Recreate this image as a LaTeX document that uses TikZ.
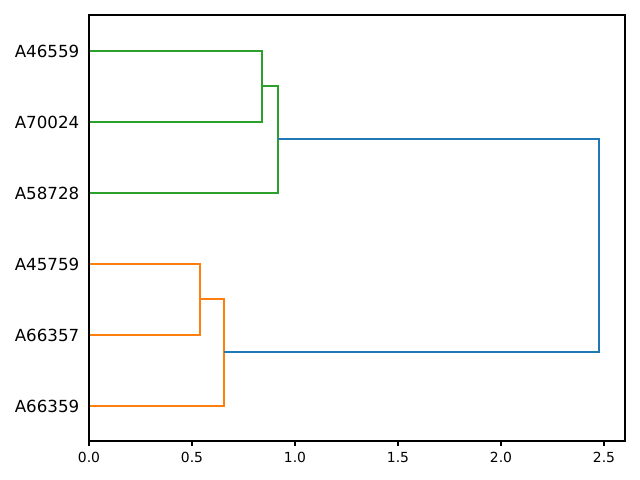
\documentclass[tikz,border=0pt]{standalone}
\usepackage{fontspec}
\setmainfont{DejaVu Sans}
\usetikzlibrary{calc}

\definecolor{linkblue}{HTML}{1F77B4}
\definecolor{linkorange}{HTML}{FF7F0E}
\definecolor{linkgreen}{HTML}{2CA02C}

\tikzset{
  leaflabel/.style={anchor=east, inner sep=0pt, font=\fontsize{12}{14}\selectfont},
  ticklabel/.style={anchor=north, inner sep=0pt, font=\fontsize{10}{12}\selectfont},
  link/.style={line width=1.5pt, line cap=butt, line join=miter}
}

\begin{document}
\begin{tikzpicture}[x=0.72pt, y=-0.72pt]
    \useasboundingbox (0,0) rectangle (640,480);

    % leaves, on the left spine
    \coordinate (l1) at (89,51);
    \coordinate (l2) at (89,122);
    \coordinate (l3) at (89,193);
    \coordinate (l4) at (89,264);
    \coordinate (l5) at (89,335);
    \coordinate (l6) at (89,406);

    \node[leaflabel] (n1) at (79.5,51) {A46559};
    \node[leaflabel] (n2) at (79.5,122) {A70024};
    \node[leaflabel] (n3) at (79.5,193) {A58728};
    \node[leaflabel] (n4) at (79.5,264) {A45759};
    \node[leaflabel] (n5) at (79.5,335) {A66357};
    \node[leaflabel] (n6) at (79.5,406) {A66359};

    % merge points
    \coordinate (g1) at (262,86);
    \coordinate (g2) at (278,139);
    \coordinate (o1) at (200,299);
    \coordinate (o2) at (224,352);
    \coordinate (r)  at (599,246);

    \draw[link, linkgreen] (l1) -| (g1) |- (l2);
    \draw[link, linkgreen] (g1) -| (g2) |- (l3);
    \draw[link, linkorange] (l4) -| (o1) |- (l5);
    \draw[link, linkorange] (o1) -| (o2) |- (l6);
    \draw[link, linkblue] (g2) -| (r) |- (o2);

    % axes frame and x ticks
    \draw[line width=0.8pt] (89,15) rectangle (625,441);
    \foreach \v/\t in {0/0.0, 1/0.5, 2/1.0, 3/1.5, 4/2.0, 5/2.5} {
        \draw[line width=0.8pt] (89+103*\v,441) -- (89+103*\v,445.9);
        \node[ticklabel] (tick\v) at (89+103*\v,452) {\t};
    }
\end{tikzpicture}
\end{document}
